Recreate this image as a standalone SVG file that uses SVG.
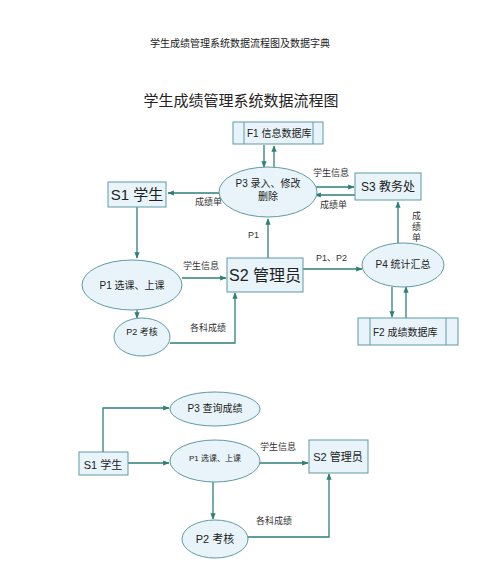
<svg xmlns="http://www.w3.org/2000/svg" width="500" height="566" viewBox="0 0 500 566">
<style>
.bg{fill:#ffffff}
.box{fill:#e8f4fa;stroke:#5f9aa6;stroke-width:1}
.ell{fill:#e8f4fa;stroke:#5f9aa6;stroke-width:1}
.ln{fill:none;stroke:#2f7f78;stroke-width:1.3}
.t{font-family:"Liberation Sans","Noto Sans CJK SC",sans-serif;fill:#222}
.lb{font-family:"Liberation Sans","Noto Sans CJK SC",sans-serif;fill:#333;font-size:9px}
</style>
<defs>
<marker id="ah" viewBox="0 0 10 10" refX="9" refY="5" markerWidth="5" markerHeight="5" orient="auto">
<path d="M0,1 L10,5 L0,9 z" fill="#2f7f78"/>
</marker>
</defs>
<rect class="bg" x="0" y="0" width="500" height="566"/>
<text class="t" x="240" y="47" font-size="10" text-anchor="middle" fill="#444">学生成绩管理系统数据流程图及数据字典</text>
<text class="t" x="241" y="106" font-size="15" text-anchor="middle">学生成绩管理系统数据流程图</text>

<g id="connectors">
<line class="ln" x1="264" y1="145" x2="264" y2="167" marker-end="url(#ah)"/>
<line class="ln" x1="274" y1="168" x2="274" y2="146" marker-end="url(#ah)"/>
<line class="ln" x1="219" y1="193" x2="168" y2="193" marker-end="url(#ah)"/>
<line class="ln" x1="316" y1="187" x2="354" y2="187" marker-end="url(#ah)"/>
<line class="ln" x1="355" y1="195" x2="315" y2="195" marker-end="url(#ah)"/>
<line class="ln" x1="398" y1="243" x2="398" y2="202" marker-end="url(#ah)"/>
<line class="ln" x1="137" y1="207" x2="137" y2="258" marker-end="url(#ah)"/>
<line class="ln" x1="182" y1="278" x2="226" y2="278" marker-end="url(#ah)"/>
<line class="ln" x1="268" y1="258" x2="268" y2="219" marker-end="url(#ah)"/>
<line class="ln" x1="303" y1="269" x2="362" y2="269" marker-end="url(#ah)"/>
<line class="ln" x1="392" y1="287" x2="392" y2="317" marker-end="url(#ah)"/>
<line class="ln" x1="406" y1="318" x2="406" y2="287" marker-end="url(#ah)"/>
<line class="ln" x1="137" y1="310" x2="137" y2="318" marker-end="url(#ah)"/>
<polyline class="ln" points="170,343 235,343 235,293" marker-end="url(#ah)"/>
<polyline class="ln" points="103,452 103,408 169,408" marker-end="url(#ah)"/>
<line class="ln" x1="128" y1="463" x2="169" y2="463" marker-end="url(#ah)"/>
<line class="ln" x1="260" y1="463" x2="308" y2="463" marker-end="url(#ah)"/>
<line class="ln" x1="213" y1="482" x2="213" y2="519" marker-end="url(#ah)"/>
<polyline class="ln" points="248,537 329,537 329,474" marker-end="url(#ah)"/>
<text class="lb" x="195" y="205" font-size="8">成绩单</text>
<text class="lb" x="313" y="176">学生信息</text>
<text class="lb" x="320" y="208">成绩单</text>
<text class="lb" x="412" y="219">成</text>
<text class="lb" x="412" y="230">绩</text>
<text class="lb" x="412" y="241">单</text>
<text class="lb" x="248" y="238">P1</text>
<text class="lb" x="183" y="269">学生信息</text>
<text class="lb" x="316" y="261">P1、P2</text>
<text class="lb" x="190" y="331">各科成绩</text>
<text class="lb" x="260" y="450">学生信息</text>
<text class="lb" x="256" y="524">各科成绩</text>
</g>

<g id="F1">
<rect class="box" x="233" y="122" width="90" height="22"/>
<line class="box" x1="244" y1="122" x2="244" y2="144"/>
<line class="box" x1="313" y1="122" x2="313" y2="144"/>
<text class="t" x="247" y="137" font-size="10">F1 信息数据库</text>
</g>
<g id="P3">
<ellipse class="ell" cx="268" cy="192" rx="49" ry="25"/>
<text class="t" x="268" y="187" font-size="10" text-anchor="middle">P3 录入、修改</text>
<text class="t" x="268" y="200" font-size="10" text-anchor="middle">删除</text>
</g>
<g id="S1">
<rect class="box" x="108" y="182" width="58" height="25"/>
<text class="t" x="137" y="200" font-size="15" text-anchor="middle">S1 学生</text>
</g>
<g id="S3">
<rect class="box" x="355" y="173" width="66" height="27"/>
<text class="t" x="388" y="191" font-size="12" text-anchor="middle">S3 教务处</text>
</g>
<g id="P1">
<ellipse class="ell" cx="132" cy="285" rx="50" ry="25"/>
<text class="t" x="132" y="289" font-size="10" text-anchor="middle">P1 选课、上课</text>
</g>
<g id="S2">
<rect class="box" x="227" y="258" width="76" height="34"/>
<text class="t" x="265" y="281" font-size="16" text-anchor="middle">S2 管理员</text>
</g>
<g id="P4">
<ellipse class="ell" cx="403" cy="265" rx="41" ry="22"/>
<text class="t" x="403" y="268" font-size="10" text-anchor="middle">P4 统计汇总</text>
</g>
<g id="F2">
<rect class="box" x="358" y="318" width="100" height="27"/>
<line class="box" x1="370" y1="318" x2="370" y2="345"/>
<line class="box" x1="446" y1="318" x2="446" y2="345"/>
<text class="t" x="373" y="336" font-size="10">F2 成绩数据库</text>
</g>
<g id="P2">
<ellipse class="ell" cx="142" cy="337" rx="28" ry="19"/>
<text class="t" x="142" y="335" font-size="9" text-anchor="middle">P2 考核</text>
</g>

<g id="P3b">
<ellipse class="ell" cx="215" cy="409" rx="45" ry="17"/>
<text class="t" x="215" y="412" font-size="10" text-anchor="middle">P3 查询成绩</text>
</g>
<g id="S1b">
<rect class="box" x="79" y="452" width="49" height="23"/>
<text class="t" x="103" y="469" font-size="11" text-anchor="middle">S1 学生</text>
</g>
<g id="P1b">
<ellipse class="ell" cx="215" cy="461" rx="45" ry="21"/>
<text class="t" x="215" y="461" font-size="8" text-anchor="middle">P1 选课、上课</text>
</g>
<g id="S2b">
<rect class="box" x="309" y="440" width="59" height="33"/>
<text class="t" x="338" y="461" font-size="11" text-anchor="middle">S2 管理员</text>
</g>
<g id="P2b">
<ellipse class="ell" cx="215" cy="539" rx="33" ry="19"/>
<text class="t" x="215" y="543" font-size="11" text-anchor="middle">P2 考核</text>
</g>
</svg>
